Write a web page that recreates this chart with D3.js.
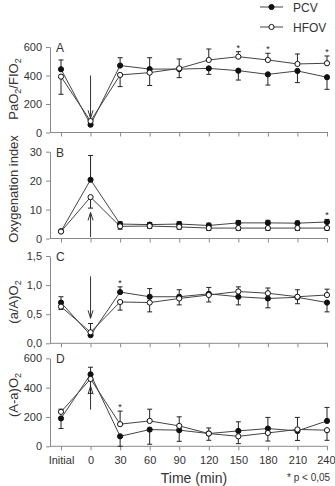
<!DOCTYPE html>
<html>
<head>
<meta charset="utf-8">
<script src="https://cdn.jsdelivr.net/npm/d3@7"></script>
<style>
  body { margin: 0; background: #fff; }
  svg { display: block; font-family: "Liberation Sans", Arial, sans-serif; }
  .axis path, .axis line { stroke: #8a8a8a; }
  .axis text { fill: #333; font-size: 11px; }
</style>
</head>
<body>
<svg id="chart" width="335" height="486"></svg>
<script>
// categories (time points)
const cats = ["Initial", "0", "30", "60", "90", "120", "150", "180", "210", "240"];

// A: PaO2/FIO2
const pcvA  = [444, 55, 470, 445, 445, 450, 434, 408, 432, 388];
const hfovA = [392, 80, 404, 420, 450, 509, 532, 509, 481, 486];
const pcvErrA  = [509, null, 525, 525, 516, 408, 368, 333, 350, 303];
const hfovErrA = [268, null, 322, 330, 385, 586, 567, 556, 551, 537];
const starsA = ["150", "180", "240"];

// B: Oxygenation index
const pcvB  = [2.5, 20.3, 5.0, 4.8, 5.0, 4.5, 5.4, 5.4, 5.3, 5.7];
const hfovB = [2.4, 14.3, 4.2, 4.3, 4.0, 3.6, 3.6, 3.6, 3.6, 3.6];
const pcvErrB  = [null, 28.7, 5.8, 5.5, 5.8, 5.3, 6.2, 6.3, 6.0, 6.6];
const hfovErrB = [null, 10.5, 3.2, 3.5, 3.2, 2.8, 2.8, 2.8, 2.8, 2.8];
const starsB = ["240"];

// C: (a/A)O2
const pcvC  = [0.70, 0.14, 0.88, 0.80, 0.80, 0.85, 0.80, 0.77, 0.79, 0.70];
const hfovC = [0.63, 0.19, 0.71, 0.70, 0.77, 0.83, 0.89, 0.86, 0.80, 0.83];
const pcvErrC  = [0.80, null, 0.97, 0.94, 0.92, 0.96, 0.66, 0.61, 0.68, 0.54];
const hfovErrC = [0.58, 0.34, 0.57, 0.54, 0.66, 0.71, 0.97, 0.95, 0.92, 0.93];
const starsC = ["30"];

// D: (A-a)O2
const pcvD  = [190, 491, 68, 114, 110, 87, 105, 121, 105, 173];
const hfovD = [235, 459, 151, 173, 139, 87, 68, 91, 115, 110];
const pcvErrD  = [121, 539, 0, 14, 34, 125, 167, 197, 40, 265];
const hfovErrD = [253, 361, 240, 253, 201, 41, 18, 36, 197, 41];
const starsD = ["30"];

const ticksA = [0, 200, 400, 600];
const ticksB = [0, 10, 20, 30];
const ticksC = [0, 0.5, 1.0, 1.5];
const ticksD = [0, 200, 400, 600];

// arrows at time 0 (from, to) in data units
const arrowA = [400, 100];
const arrowB = [0.5, 9];
const arrowC = [1.15, 0.43];
const arrowD = [250, 410];

const svg = d3.select("#chart");
const x = d3.scalePoint().domain(cats).range([61, 327]);
const axisX = 50;

const panels = [
  { letter: "A", top: 47, bottom: 132.5, max: 600, ticks: ticksA, fmt: d3.format("d"),
    pcv: pcvA, hfov: hfovA, pcvErr: pcvErrA, hfovErr: hfovErrA, stars: starsA, arrow: arrowA,
    title: ["PaO", "2", "/FIO", "2"], titleY: 89 },
  { letter: "B", top: 151.7, bottom: 238.5, max: 30, ticks: ticksB, fmt: d3.format("d"),
    pcv: pcvB, hfov: hfovB, pcvErr: pcvErrB, hfovErr: hfovErrB, stars: starsB, arrow: arrowB,
    title: ["Oxygenation index"], titleY: 189 },
  { letter: "C", top: 256, bottom: 343.3, max: 1.5, ticks: ticksC, fmt: d => d3.format(".1f")(d).replace(".", ","),
    pcv: pcvC, hfov: hfovC, pcvErr: pcvErrC, hfovErr: hfovErrC, stars: starsC, arrow: arrowC,
    title: ["(a/A)O", "2"], titleY: 302 },
  { letter: "D", top: 358.3, bottom: 446.3, max: 600, ticks: ticksD, fmt: d3.format("d"),
    pcv: pcvD, hfov: hfovD, pcvErr: pcvErrD, hfovErr: hfovErrD, stars: starsD, arrow: arrowD,
    title: ["(A-a)O", "2"], titleY: 395 }
];

panels.forEach((p, pi) => {
  const y = d3.scaleLinear().domain([0, p.max]).range([p.bottom, p.top]);
  const g = svg.append("g");

  // y axis
  g.append("g").attr("class", "axis")
    .attr("transform", `translate(${axisX},0)`)
    .call(d3.axisLeft(y).tickValues(p.ticks).tickFormat(p.fmt).tickSize(4).tickSizeOuter(0).tickPadding(4));

  // x axis
  const xa = g.append("g").attr("class", "axis")
    .attr("transform", `translate(0,${p.bottom})`)
    .call(d3.axisBottom(x).tickSize(4).tickSizeOuter(0).tickPadding(6)
      .tickFormat(pi === 3 ? (d => d) : () => ""));
  xa.select(".domain").attr("d", `M${axisX},0H${x("240") + 1}`);
  xa.selectAll("text").style("font-size", "11px");
  if (pi === 3) xa.selectAll(".tick:last-of-type text").attr("text-anchor", "end").attr("dx", 8);

  // panel letter
  g.append("text").attr("x", 56).attr("y", p.top + 5)
    .attr("font-size", 12).attr("fill", "#333").text(p.letter);

  // y title
  const t = g.append("text")
    .attr("transform", `translate(18,${p.titleY}) rotate(-90)`)
    .attr("text-anchor", "middle").attr("font-size", 13).attr("fill", "#333");
  p.title.forEach((s, i) => {
    const ts = t.append("tspan").text(s);
    if (i % 2 === 1) ts.attr("font-size", 9).attr("dy", 3);
    else if (i > 0) ts.attr("dy", -3);
  });

  // arrow at time 0
  const ax = x("0");
  const [a0, a1] = p.arrow.map(y);
  const dir = a1 > a0 ? -1 : 1;
  g.append("path")
    .attr("d", `M${ax},${a0}V${a1}M${ax - 2.5},${a1 + dir * 8}L${ax},${a1}L${ax + 2.5},${a1 + dir * 8}`)
    .attr("fill", "none").attr("stroke", "#333").attr("stroke-width", 1);

  const series = [
    { vals: p.pcv, err: p.pcvErr, fill: "#111" },
    { vals: p.hfov, err: p.hfovErr, fill: "#fff" }
  ];

  // error bars
  series.forEach(s => {
    g.selectAll(null).data(cats.map((c, i) => ({ c, v: s.vals[i], e: s.err[i] })).filter(d => d.e != null))
      .join("path")
      .attr("d", d => `M${x(d.c)},${y(d.v)}V${y(d.e)}M${x(d.c) - 2.5},${y(d.e)}H${x(d.c) + 2.5}`)
      .attr("fill", "none").attr("stroke", "#222").attr("stroke-width", 1);
  });

  const line = d3.line().x((d, i) => x(cats[i])).y(d => y(d));
  series.forEach(s => {
    g.append("path").attr("d", line(s.vals))
      .attr("fill", "none").attr("stroke", "#444").attr("stroke-width", 1);
  });
  series.forEach(s => {
    g.selectAll(null).data(s.vals).join("circle")
      .attr("cx", (d, i) => x(cats[i])).attr("cy", d => y(d)).attr("r", 2.6)
      .attr("fill", s.fill).attr("stroke", "#111").attr("stroke-width", 1);
  });

  // significance stars
  p.stars.forEach(c => {
    const i = cats.indexOf(c);
    const top = d3.max([p.pcv[i], p.hfov[i], p.pcvErr[i], p.hfovErr[i]].filter(v => v != null));
    g.append("text").attr("x", x(c)).attr("y", y(top) - 1)
      .attr("text-anchor", "middle").attr("font-size", 9).attr("fill", "#222").text("*");
  });
});

// legend
const legend = [{ name: "PCV", fill: "#111", y: 7 }, { name: "HFOV", fill: "#fff", y: 27 }];
legend.forEach(l => {
  svg.append("line").attr("x1", 260).attr("x2", 283).attr("y1", l.y).attr("y2", l.y)
    .attr("stroke", "#444");
  svg.append("circle").attr("cx", 271.5).attr("cy", l.y).attr("r", 2.6)
    .attr("fill", l.fill).attr("stroke", "#111");
  svg.append("text").attr("x", 293).attr("y", l.y + 4.5).attr("font-size", 12)
    .attr("fill", "#333").text(l.name);
});

// x title and footnote
svg.append("text").attr("x", 194).attr("y", 483).attr("text-anchor", "middle")
  .attr("font-size", 14).attr("fill", "#333").text("Time (min)");
svg.append("text").attr("x", 287).attr("y", 481).attr("font-size", 10)
  .attr("fill", "#333").text("* p < 0,05");
</script>
</body>
</html>
